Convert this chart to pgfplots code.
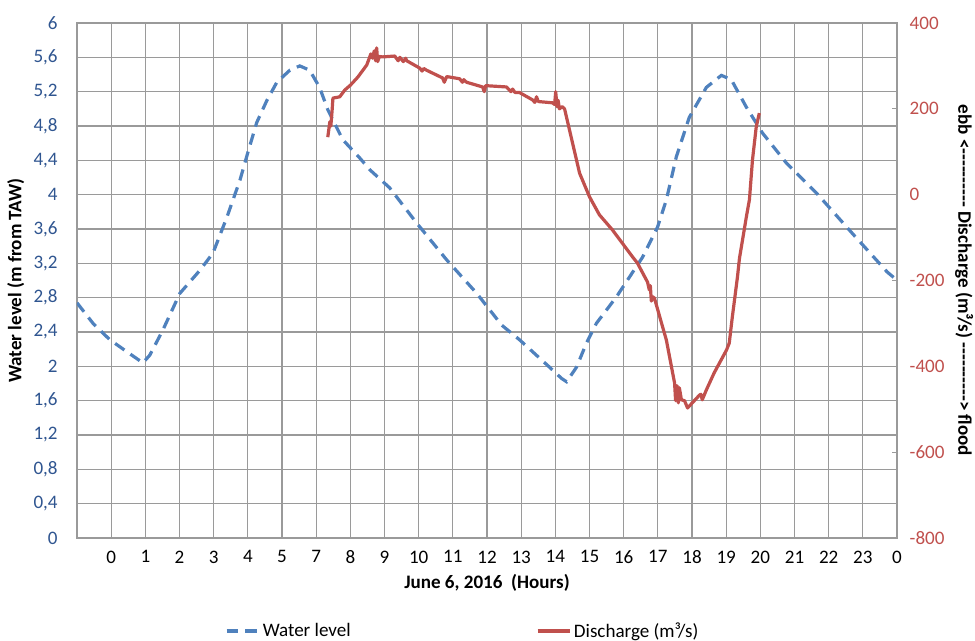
\documentclass[border=0pt]{standalone}
\usepackage{fontspec}
\setmainfont{Carlito}
\usepackage{pgfplots}
\pgfplotsset{compat=1.18}

\definecolor{wlblue}{HTML}{4F81BD}
\definecolor{qred}{HTML}{C0504D}
\definecolor{ticktxt}{HTML}{2F5590}
\definecolor{gridc}{HTML}{9A9A9A}

% hour positions: one unit per grid column
\pgfplotstableread{
u     h
0.00  2.74
0.47  2.50
0.96  2.31
1.46  2.17
1.93  2.04
2.13  2.13
2.51  2.42
3.01  2.85
3.60  3.12
3.98  3.32
4.39  3.74
4.77  4.17
5.00  4.49
5.26  4.84
5.56  5.10
5.85  5.31
6.23  5.45
6.52  5.50
6.81  5.45
7.10  5.25
7.34  4.99
7.78  4.64
8.27  4.43
8.57  4.29
9.15  4.08
9.94  3.67
10.82 3.24
11.70 2.85
12.43 2.48
12.95 2.31
13.83 1.99
14.18 1.86
14.33 1.82
14.62 1.99
14.91 2.27
15.20 2.50
15.79 2.81
16.17 3.04
16.55 3.27
16.99 3.62
17.25 3.94
17.54 4.44
17.92 4.90
18.42 5.25
18.86 5.39
19.15 5.34
19.59 5.02
20.06 4.72
20.76 4.37
21.64 4.02
22.69 3.55
23.71 3.10
23.92 3.03
}\waterlevel

\pgfplotstableread{
u     q
7.34  134
7.40  170
7.43  160
7.47  200
7.49  225
7.69  228
7.84  244
8.00  255
8.22  274
8.48  302
8.60  328
8.65  318
8.70  335
8.74  312
8.77  342
8.80  310
8.85  322
8.95  321
9.30  323
9.40  312
9.45  320
9.55  310
9.62  318
9.65  312
10.03 295
10.10 288
10.15 294
10.23 290
10.70 272
10.75 262
10.82 275
10.91 274
11.20 270
11.28 262
11.32 268
11.40 262
11.87 251
11.92 240
11.96 254
12.57 251
12.70 240
12.75 246
12.82 238
12.95 238
13.33 221
13.40 215
13.45 228
13.50 217
13.92 214
13.98 210
14.01 240
14.05 205
14.08 220
14.12 200
14.20 205
14.27 200
14.71 50
15.00 -5
15.29 -47
15.67 -82
16.26 -145
16.40 -159
16.70 -204
16.75 -222
16.78 -212
16.81 -248
16.85 -238
16.90 -241
17.25 -339
17.49 -439
17.52 -480
17.56 -445
17.60 -485
17.63 -450
17.69 -478
17.78 -480
17.87 -497
18.22 -467
18.26 -465
18.30 -478
18.42 -455
18.65 -415
19.01 -362
19.09 -346
19.18 -285
19.33 -192
19.39 -148
19.59 -52
19.68 -12
19.77 81
19.88 158
19.97 190
}\discharge

\newcommand{\dsh}{-{}-{}-{}-{}-{}-{}-{}-{}-{}-}

\begin{document}
\begin{tikzpicture}
\useasboundingbox (-57.75pt,-77.25pt) rectangle (673.5pt,403.5pt);

\pgfplotsset{
  common/.style={
    width=615pt, height=386.25pt, scale only axis,
    xmin=0, xmax=24,
    /pgf/number format/assume math mode=true,
    tick label style={font=\fontsize{14.3}{16}\selectfont},
    label style={font=\fontsize{14.3}{16}\selectfont\bfseries},
  }
}

\begin{axis}[common,
  ymin=0, ymax=6,
  xtick={1,...,24},
  xticklabels={0,1,2,3,4,5,7,8,9,10,11,12,13,14,15,16,17,18,19,20,21,22,23,0},
  ytick={0,0.4,0.8,1.2,1.6,2,2.4,2.8,3.2,3.6,4,4.4,4.8,5.2,5.6,6},
  yticklabels={0,{0,4},{0,8},{1,2},{1,6},2,{2,4},{2,8},{3,2},{3,6},4,{4,4},{4,8},{5,2},{5,6},6},
  grid=major,
  major grid style={gridc, line width=0.9pt},
  axis line style={gridc, line width=0.9pt},
  major tick length=0pt,
  xticklabel style={black, yshift=-6pt},
  yticklabel style={ticktxt, xshift=-11pt},
  xlabel={June 6, 2016\ \ (Hours)},
  ylabel={Water level (m from TAW)},
  xlabel style={yshift=-1pt},
]
\addplot[wlblue, line width=2.4pt, dash pattern=on 8.5pt off 5.5pt] table[x=u, y=h] {\waterlevel};
\end{axis}

\begin{axis}[common,
  ymin=-800, ymax=400,
  axis x line=none,
  axis y line*=right,
  y axis line style={draw=none},
  ytick={-800,-600,-400,-200,0,200,400},
  yticklabels={-800,-600,-400,-200,0,200,400},
  tick align=inside,
  major tick length=4pt,
  tick style={gridc, line width=0.9pt},
  yticklabel style={qred, xshift=6pt},
  ylabel={ebb <\dsh{} Discharge (m³/s) \dsh{}> flood},
  ylabel style={rotate=180, yshift=1pt},
  legend style={draw=none, fill=none, at={(0.4707,-0.1806)}, anchor=center,
    font=\fontsize{14.3}{16}\selectfont, nodes={inner xsep=2pt}},
  legend columns=2,
  legend cell align=left,
  /tikz/every even column/.append style={column sep=137pt},
  legend image code/.code={\draw[#1] (0pt,0pt) -- (24pt,0pt);},
]
\addlegendimage{wlblue, line width=2.4pt, dash pattern=on 8.5pt off 5.5pt}
\addlegendentry{Water level}
\addplot[qred, line width=2.4pt, line join=round] table[x=u, y=q] {\discharge};
\addlegendentry{Discharge (m³/s)}
\end{axis}
\end{tikzpicture}
\end{document}
